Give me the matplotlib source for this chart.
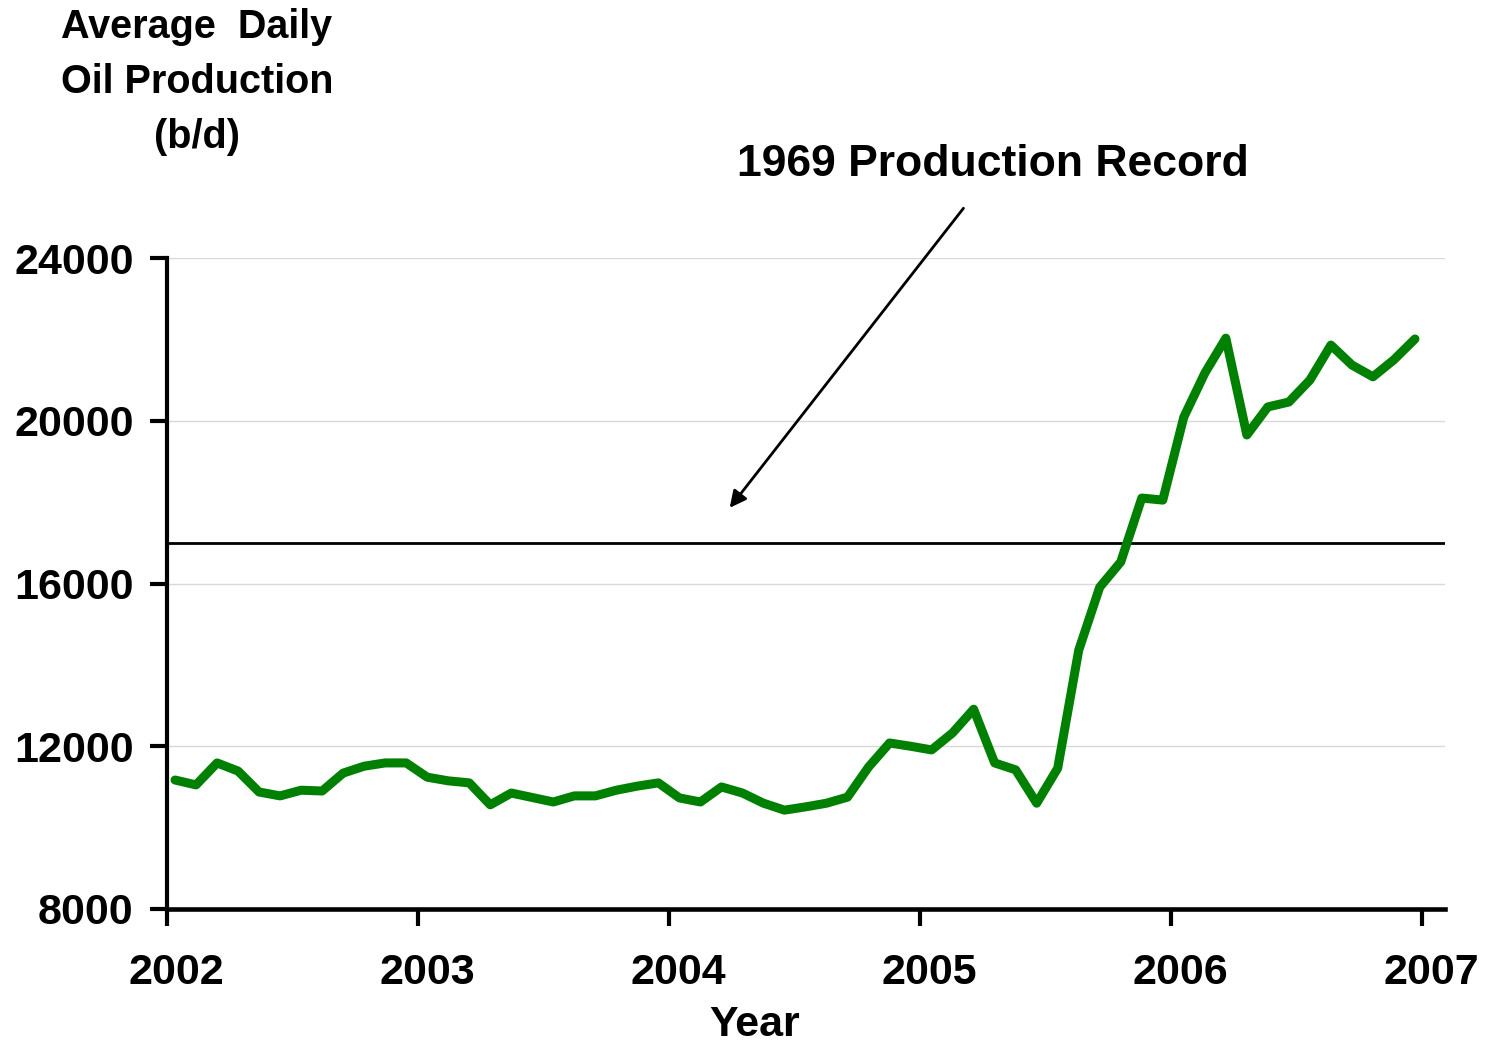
import matplotlib
matplotlib.use("Agg")
import matplotlib.pyplot as plt
import matplotlib.transforms as mtransforms
import numpy as np

plt.rcParams['font.family'] = ['Liberation Sans', 'DejaVu Sans']
plt.rcParams['font.weight'] = 'bold'

# Monthly average daily oil production, Jan 2002 - Dec 2006 (b/d)
production = [
    11170, 11050, 11590, 11390, 10875, 10780, 10920, 10900, 11340, 11510, 11590, 11590,
    11240, 11150, 11100, 10560, 10850, 10740, 10630, 10780, 10780, 10920, 11020, 11100,
    10730, 10630, 11000, 10850, 10600, 10430, 10510, 10600, 10750, 11490, 12080, 12000,
    11910, 12330, 12910, 11590, 11420, 10600, 11460, 14360, 15910, 16530, 18100, 18050,
    20090, 21170, 22030, 19650, 20340, 20460, 21000, 21860, 21370, 21080, 21500, 22010,
]
start_year = 2002
record_1969 = 17000
year_ticks = [2002, 2003, 2004, 2005, 2006, 2007]
value_ticks = [8000, 12000, 16000, 20000, 24000]

months = np.arange(len(production))
x = start_year + 0.032 + months * (4.94 / 59)

fig = plt.figure(figsize=(14.93, 10.45), dpi=100)
ax = fig.add_axes([167/1493, 1 - 909/1045, (1445-167)/1493, (909-258)/1045])

ax.set_xlim(2002, 2007 + 23/251)
ax.set_ylim(8000, 24000)

for v in value_ticks[1:]:
    ax.axhline(v, color='#d9d9d9', lw=1.0, zorder=1)

ax.axhline(record_1969, color='black', lw=2.0, zorder=2)
ax.plot(x, production, color='#008000', lw=6.5, solid_joinstyle='round',
        solid_capstyle='round', zorder=3)

ax.spines['top'].set_visible(False)
ax.spines['right'].set_visible(False)
ax.spines['left'].set_linewidth(3)
ax.spines['bottom'].set_linewidth(3.3)
ax.spines['left'].set_capstyle('projecting')

ax.set_xticks(year_ticks)
ax.set_xticklabels([str(y) for y in year_ticks])
ax.set_yticks(value_ticks)
ax.set_yticklabels([str(v) for v in value_ticks])
ax.tick_params(axis='x', direction='out', length=12, width=3, pad=20, labelsize=31)
ax.tick_params(axis='y', direction='out', length=12, width=3, pad=12, labelsize=31)
offset = mtransforms.ScaledTranslation(9/100, 0, fig.dpi_scale_trans)
for lab in ax.get_xticklabels():
    lab.set_fontweight('bold')
    lab.set_transform(lab.get_transform() + offset)
for lab in ax.get_yticklabels():
    lab.set_fontweight('bold')

ax.set_xlabel('Year', fontsize=31, fontweight='bold')
ax.xaxis.set_label_coords((755-167)/(1445-167), -0.148)

fig.text(197/1493, 1 - 82/1045, 'Average  Daily\nOil Production\n(b/d)',
         ha='center', va='center', fontsize=28.5, fontweight='bold', linespacing=1.55)

ax.annotate('', xy=(2004.235, 17806), xytext=(2005.18, 25277),
            arrowprops=dict(arrowstyle='-|>', color='black', lw=2, mutation_scale=25),
            annotation_clip=False)
fig.text(993/1493, 1 - 165/1045, '1969 Production Record', ha='center', va='center',
         fontsize=32, fontweight='bold')

fig.savefig('out.png', dpi=100)
